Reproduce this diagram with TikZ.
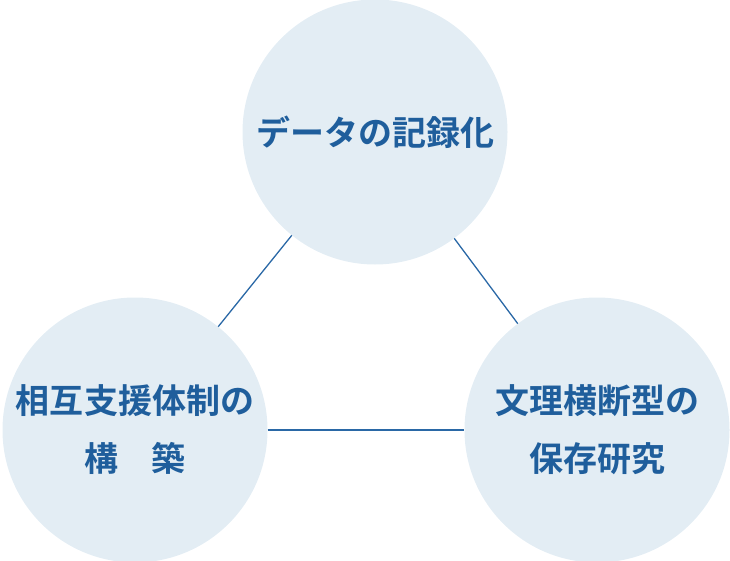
\documentclass[tikz,border=0pt]{standalone}
\usepackage{fontspec}
\newfontfamily\cjk{Noto Sans CJK JP}[BoldFont={Noto Sans CJK JP Bold}]
\definecolor{circfill}{HTML}{E3EDF4}
\definecolor{txtblue}{HTML}{1F5E9C}
\definecolor{lineblue}{HTML}{2A68A6}
\begin{document}
\begin{tikzpicture}[x=1pt,y=-1pt,
  topic/.style={circle,fill=circfill,minimum size=265pt,inner sep=0pt,
    text=txtblue,font=\cjk\bfseries\fontsize{34}{58}\selectfont,align=center},
  link/.style={draw=lineblue,line width=1.3pt}]
\useasboundingbox (0,0) rectangle (730,561);
\node[topic] (a) at (375,132) {データの記録化};
\node[topic] (b) at (135,430) {相互支援体制の\\構\hspace{1em}築};
\node[topic] (c) at (597,430) {文理横断型の\\保存研究};
\draw[link] (a) -- (b);
\draw[link] (a) -- (c);
\draw[link] (b) -- (c);
\end{tikzpicture}
\end{document}
